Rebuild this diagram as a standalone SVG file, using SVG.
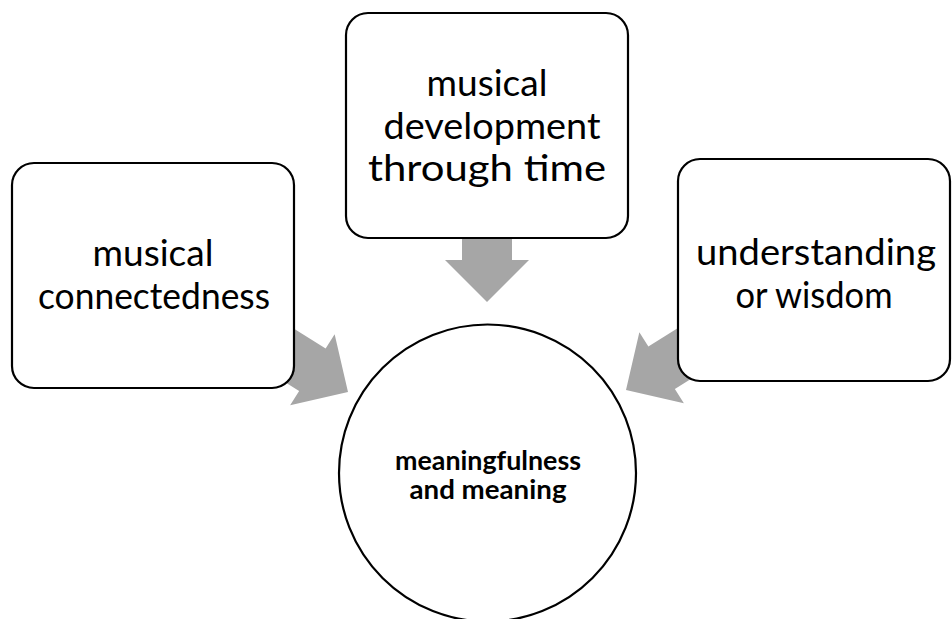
<svg xmlns="http://www.w3.org/2000/svg" width="952" height="619" viewBox="0 0 952 619">
<style>
.box{fill:#fff;stroke:#000;stroke-width:2.2}
.arrow{fill:#A6A6A6;stroke:none}
.t{font-family:Lato,"Open Sans","Liberation Sans",sans-serif;font-size:37px;fill:#000;text-anchor:middle}
.tb{font-family:Lato,"Open Sans","Liberation Sans",sans-serif;font-size:26px;font-weight:bold;fill:#000;text-anchor:middle}
</style>
<defs>
<polygon id="arr" points="0,0 -42,-42 -42,-25 -100,-25 -100,25 -42,25 -42,42"/>
</defs>
<rect width="952" height="619" fill="#fff"/>
<g id="connectors" class="arrow">
<use href="#arr" transform="translate(487,302) rotate(90)"/>
<use href="#arr" transform="translate(348,392) rotate(32)"/>
<use href="#arr" transform="translate(626,390) rotate(148)"/>
</g>
<g id="node-connectedness">
<rect class="box" x="12" y="163" width="282" height="225" rx="22"/>
<text class="t" x="153" y="266" textLength="121" lengthAdjust="spacingAndGlyphs">musical</text>
<text class="t" x="154" y="309" textLength="232" lengthAdjust="spacingAndGlyphs">connectedness</text>
</g>
<g id="node-development">
<rect class="box" x="346" y="13" width="282" height="225" rx="22"/>
<text class="t" x="487" y="96" textLength="121" lengthAdjust="spacingAndGlyphs">musical</text>
<text class="t" x="492" y="139" textLength="217" lengthAdjust="spacingAndGlyphs">development</text>
<text class="t" x="487" y="181" textLength="238" lengthAdjust="spacingAndGlyphs">through time</text>
</g>
<g id="node-wisdom">
<rect class="box" x="678" y="159" width="272" height="222" rx="22"/>
<text class="t" x="816" y="265" textLength="240" lengthAdjust="spacingAndGlyphs">understanding</text>
<text class="t" x="814" y="308" textLength="157" lengthAdjust="spacingAndGlyphs">or wisdom</text>
</g>
<g id="node-meaning">
<circle class="box" cx="487.5" cy="473" r="148.5"/>
<text class="tb" x="488" y="470" textLength="186" lengthAdjust="spacingAndGlyphs">meaningfulness</text>
<text class="tb" x="488" y="499" textLength="157" lengthAdjust="spacingAndGlyphs">and meaning</text>
</g>
</svg>
